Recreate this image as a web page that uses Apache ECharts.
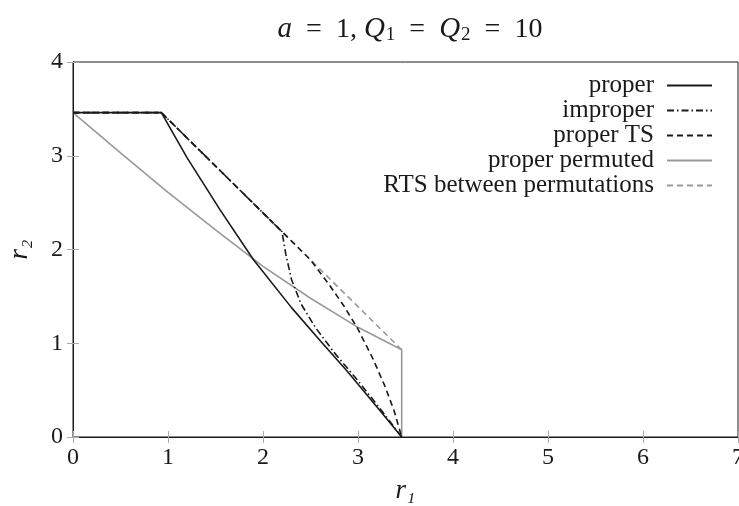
<!DOCTYPE html>
<html>
<head>
<meta charset="utf-8">
<script src="https://cdn.jsdelivr.net/npm/echarts@6/dist/echarts.min.js"></script>
<style>
html, body { margin: 0; padding: 0; background: #fff; }
#main { width: 739px; height: 506px; }
</style>
</head>
<body>
<div id="main"></div>
<script>
// r1 / r2 points of each curve
var properPts = [[0, 3.46], [0.93, 3.46], [1.2, 2.98], [1.55, 2.42], [1.9, 1.89], [2.3, 1.38], [2.6, 1.03], [2.88, 0.71], [3.2, 0.32], [3.46, 0]];
var improperPts = [[0, 3.46], [0.93, 3.46], [2.2, 2.19], [2.24, 1.95], [2.3, 1.68], [2.4, 1.42], [2.55, 1.17], [2.75, 0.9], [3.0, 0.6], [3.25, 0.28], [3.46, 0]];
var properTSPts = [[0, 3.46], [0.93, 3.46], [2.5, 1.89], [2.7, 1.62], [2.85, 1.4], [3.0, 1.15], [3.15, 0.85], [3.28, 0.55], [3.38, 0.28], [3.46, 0]];
var permutedPts = [[0, 3.46], [0.5, 3.03], [1.0, 2.61], [1.5, 2.21], [2.0, 1.82], [2.5, 1.48], [3.0, 1.17], [3.46, 0.93], [3.46, 0]];
var rtsPts = [[0, 3.46], [0.93, 3.46], [3.46, 0.93]];

var seriesNames = ['proper', 'improper', 'proper TS', 'proper permuted', 'RTS between permutations'];
var xTicks = [0, 1, 2, 3, 4, 5, 6, 7];
var yTicks = [0, 1, 2, 3, 4];

var serif = 'Liberation Serif';
var black = '#1a1a1a';
var gray = '#999999';

var myChart = echarts.init(document.getElementById('main'));

function mkLine(name, pts, color, type, z) {
    return {
        name: name,
        type: 'line',
        data: pts,
        symbol: 'none',
        showSymbol: false,
        z: z,
        lineStyle: { color: color, width: 1.6, type: type },
        itemStyle: { color: color },
        xAxisIndex: 0,
        yAxisIndex: 0
    };
}

var tickIn = { show: true, inside: true, length: 6, lineStyle: { color: '#aaa', width: 1 } };

option = {
    animation: false,
    backgroundColor: '#fff',
    title: {
        text: '{i|a}\u2002=\u20021, {i|Q}{s|1}\u2002=\u2002{i|Q}{s|2}\u2002=\u200210',
        left: 405,
        top: 9,
        textAlign: 'center',
        textStyle: {
            fontFamily: serif,
            fontSize: 28,
            fontWeight: 'normal',
            color: black,
            rich: {
                i: { fontFamily: serif, fontStyle: 'italic', fontSize: 29, color: black },
                s: { fontFamily: serif, fontSize: 19, color: black, padding: [12, 0, 0, 1] }
            }
        }
    },
    legend: {
        data: seriesNames,
        orient: 'vertical',
        align: 'right',
        right: 21,
        top: 68,
        itemWidth: 45,
        itemHeight: 14,
        itemGap: 0,
        // hide the dot that line series add to their legend icon
        itemStyle: { opacity: 0 },
        textStyle: { fontFamily: serif, fontSize: 25, color: black, lineHeight: 25, padding: [0, 8, 0, 0] }
    },
    grid: {
        left: 73, right: 1, top: 62, bottom: 69,
        outerBoundsMode: 'none',
        containLabel: false,
        show: true, borderColor: black, borderWidth: 1
    },
    xAxis: [{
        type: 'value', min: 0, max: 7, interval: 1,
        name: 'r₁', nameLocation: 'middle', nameGap: 40,
        nameTextStyle: { fontFamily: serif, fontStyle: 'italic', fontSize: 27, color: black },
        axisLine: { show: true, lineStyle: { color: black } },
        axisTick: tickIn,
        axisLabel: { margin: 9, fontFamily: serif, fontSize: 24, color: black,
            customValues: xTicks },
        splitLine: { show: false }
    }, {
        type: 'value', position: 'top', min: 0, max: 7, interval: 1,
        axisLine: { show: true, lineStyle: { color: black } },
        axisTick: tickIn, axisLabel: { show: false }, splitLine: { show: false }
    }],
    yAxis: [{
        type: 'value', min: 0, max: 4, interval: 1,
        name: 'r₂', nameLocation: 'middle', nameGap: 40, nameRotate: 90,
        nameTextStyle: { fontFamily: serif, fontStyle: 'italic', fontSize: 27, color: black },
        axisLine: { show: true, lineStyle: { color: black } },
        axisTick: tickIn,
        axisLabel: { margin: 10, fontFamily: serif, fontSize: 24, color: black,
            customValues: yTicks },
        splitLine: { show: false }
    }, {
        type: 'value', position: 'right', min: 0, max: 4, interval: 1,
        axisLine: { show: true, lineStyle: { color: black } },
        axisTick: tickIn, axisLabel: { show: false }, splitLine: { show: false }
    }],
    series: [
        mkLine(seriesNames[0], properPts, black, 'solid', 5),
        mkLine(seriesNames[1], improperPts, black, [7, 3, 1.5, 3], 4),
        mkLine(seriesNames[2], properTSPts, black, [6, 4], 3),
        mkLine(seriesNames[3], permutedPts, gray, 'solid', 2),
        mkLine(seriesNames[4], rtsPts, gray, [6, 4], 1)
    ]
};

myChart.setOption(option, true);
</script>
</body>
</html>
